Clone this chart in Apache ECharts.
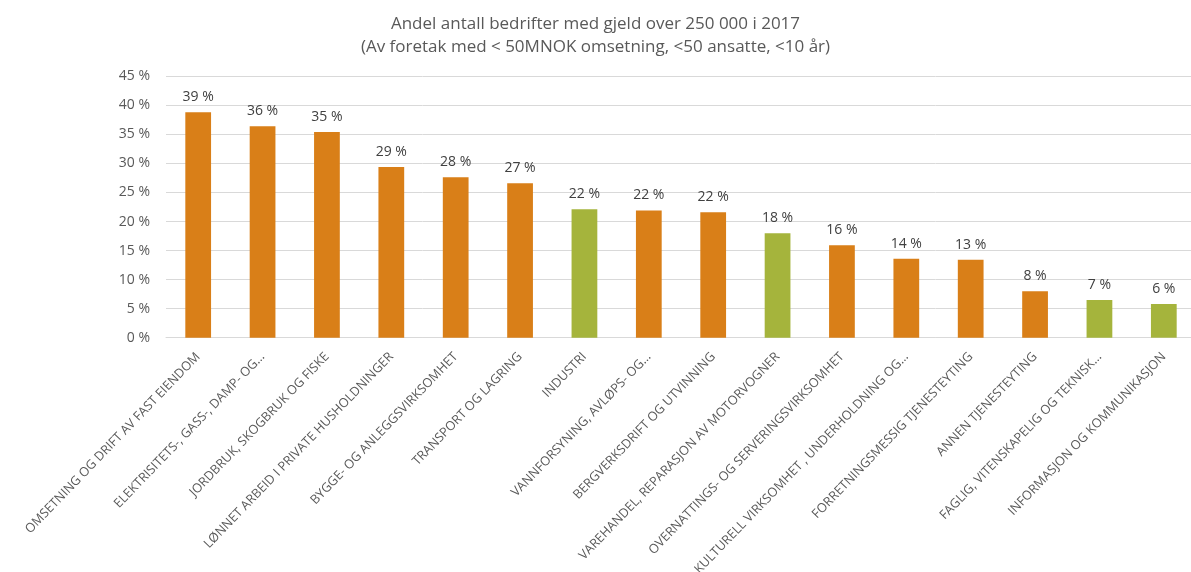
<!DOCTYPE html>
<html><head><meta charset="utf-8">
<script src="https://cdn.jsdelivr.net/npm/echarts@6/dist/echarts.min.js"></script>
<style>html,body{margin:0;padding:0;background:#fff}#c{width:1191px;height:572px}</style>
</head><body><div id="c"></div>
<script>
const categories = [
  "OMSETNING OG DRIFT AV FAST EIENDOM",
  "ELEKTRISITETS-, GASS-, DAMP- OG…",
  "JORDBRUK, SKOGBRUK OG FISKE",
  "LØNNET ARBEID I PRIVATE HUSHOLDNINGER",
  "BYGGE- OG ANLEGGSVIRKSOMHET",
  "TRANSPORT OG LAGRING",
  "INDUSTRI",
  "VANNFORSYNING, AVLØPS- OG…",
  "BERGVERKSDRIFT OG UTVINNING",
  "VAREHANDEL, REPARASJON AV MOTORVOGNER",
  "OVERNATTINGS- OG SERVERINGSVIRKSOMHET",
  "KULTURELL VIRKSOMHET , UNDERHOLDNING OG…",
  "FORRETNINGSMESSIG TJENESTEYTING",
  "ANNEN TJENESTEYTING",
  "FAGLIG, VITENSKAPELIG OG TEKNISK…",
  "INFORMASJON OG KOMMUNIKASJON"
];
const values = [38.8, 36.4, 35.4, 29.4, 27.6, 26.6, 22.1, 21.9, 21.6, 18.0, 15.9, 13.6, 13.4, 8.0, 6.5, 5.8];
const highlighted = [false, false, false, false, false, false, true, false, false, true, false, false, false, false, true, true];
const yTicks = [0, 5, 10, 15, 20, 25, 30, 35, 40, 45];
const titleLines = ["Andel antall bedrifter med gjeld over 250 000 i 2017", "(Av foretak med < 50MNOK omsetning, <50 ansatte, <10 år)"];

const ORANGE = '#D97F18', GREEN = '#A5B43C';
const font = 'Open Sans, Noto Sans, sans-serif';
const chart = echarts.init(document.getElementById('c'));
chart.setOption({
  animation: false,
  title: {
    text: titleLines.join('\n'), left: 'center', top: 8,
    textStyle: { fontFamily: font, fontSize: 17, fontWeight: 'normal', color: '#595959', lineHeight: 23 }
  },
  grid: { left: 166, top: 76.3, width: 1030, height: 261.4, containLabel: false, outerBoundsMode: 'none' },
  xAxis: {
    type: 'category', data: categories,
    axisLine: { lineStyle: { color: '#d9d9d9' } },
    axisTick: { show: false },
    axisLabel: { rotate: 46, interval: 0, fontFamily: font, fontSize: 12.7, color: '#595959', margin: 17 }
  },
  yAxis: {
    type: 'value', min: yTicks[0], max: yTicks[yTicks.length - 1], interval: 5,
    axisLine: { show: false }, axisTick: { show: false },
    splitLine: { lineStyle: { color: '#d9d9d9', width: 1 } },
    axisLabel: { formatter: v => v + ' %', fontFamily: font, fontSize: 14, color: '#595959', margin: 16 }
  },
  series: [{
    type: 'bar', barWidth: '40%',
    data: values.map((v, i) => ({ value: v, itemStyle: { color: highlighted[i] ? GREEN : ORANGE } })),
    label: { show: true, position: 'top', distance: 8, formatter: p => Math.round(p.value) + ' %', fontFamily: font, fontSize: 14, color: '#404040' }
  }]
});
</script></body></html>
